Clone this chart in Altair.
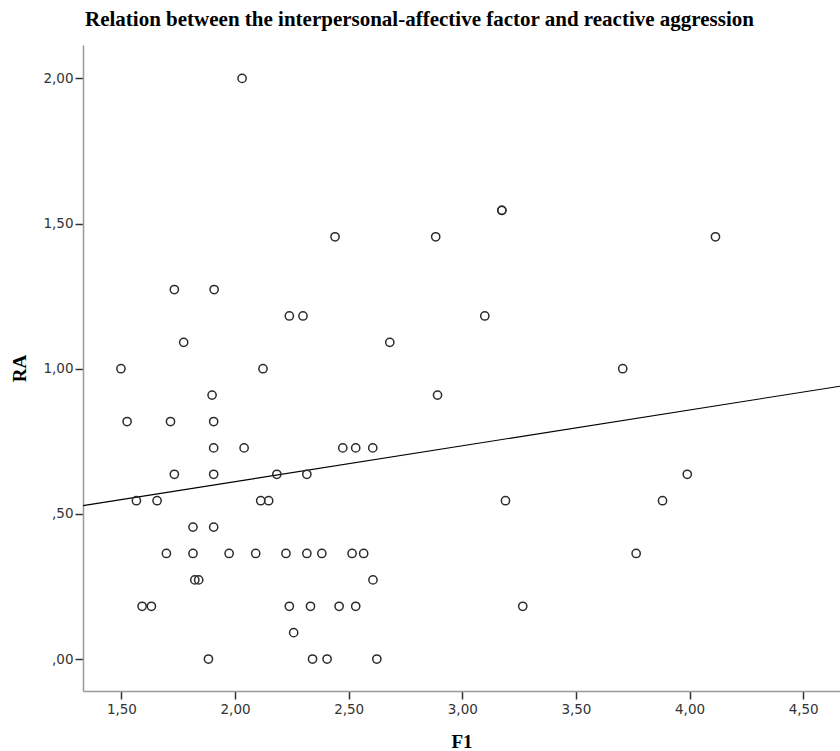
import altair as alt
import pandas as pd

title_text = "Relation between the interpersonal-affective factor and reactive aggression"

f1 = [
    2.031,
    3.174, 3.174,
    2.440, 2.883, 4.114,
    1.733, 1.908,
    2.239, 2.299, 3.099,
    1.774, 2.681,
    1.498, 2.123, 3.706,
    1.899, 2.891,
    1.525, 1.716, 1.906,
    1.906, 2.040, 2.474, 2.531, 2.606,
    1.733, 1.906, 2.184, 2.316, 3.990,
    1.566, 1.657, 2.113, 2.148, 3.190, 3.881,
    1.815, 1.906,
    1.698, 1.815, 1.974, 2.091, 2.224, 2.316, 2.382, 2.515, 2.566, 3.765,
    1.823, 1.840, 2.607,
    1.591, 1.632, 2.239, 2.332, 2.458, 2.531, 3.266,
    2.258,
    1.883, 2.341, 2.405, 2.624,
]
ra = [
    2.0000,
    1.5455, 1.5455,
    1.4545, 1.4545, 1.4545,
    1.2727, 1.2727,
    1.1818, 1.1818, 1.1818,
    1.0909, 1.0909,
    1.0000, 1.0000, 1.0000,
    0.9091, 0.9091,
    0.8182, 0.8182, 0.8182,
    0.7273, 0.7273, 0.7273, 0.7273, 0.7273,
    0.6364, 0.6364, 0.6364, 0.6364, 0.6364,
    0.5455, 0.5455, 0.5455, 0.5455, 0.5455, 0.5455,
    0.4545, 0.4545,
    0.3636, 0.3636, 0.3636, 0.3636, 0.3636, 0.3636, 0.3636, 0.3636, 0.3636, 0.3636,
    0.2727, 0.2727, 0.2727,
    0.1818, 0.1818, 0.1818, 0.1818, 0.1818, 0.1818, 0.1818,
    0.0909,
    0.0000, 0.0000, 0.0000, 0.0000,
]

x_ticks = [1.5, 2.0, 2.5, 3.0, 3.5, 4.0, 4.5]
y_ticks = [0.0, 0.5, 1.0, 1.5, 2.0]
x_domain = [1.331, 4.662]
y_domain = [-0.110, 2.115]

df = pd.DataFrame({"F1": f1, "RA": ra})

label_expr = ("datum.value < 1 ? replace(format(datum.value, '.2f'), '0.', ',') "
              ": replace(format(datum.value, '.2f'), '.', ',')")

common_axis = dict(
    labelExpr=label_expr,
    labelFont="DejaVu Sans",
    labelFontSize=13.5,
    labelColor="#333333",
    tickSize=8,
    tickColor="#333333",
    tickWidth=1.5,
    domainColor="#999999",
    domainWidth=1.5,
    grid=False,
    titleFont="Liberation Serif",
    titleFontWeight="bold",
    titleFontSize=19,
    titleColor="black",
    titleBaseline="alphabetic",
)

x_enc = alt.X(
    "F1:Q",
    scale=alt.Scale(domain=x_domain, nice=False, zero=False),
    axis=alt.Axis(values=x_ticks, title="F1", labelPadding=3, titleY=56, **common_axis),
)
y_enc = alt.Y(
    "RA:Q",
    scale=alt.Scale(domain=y_domain, nice=False, zero=False),
    axis=alt.Axis(values=y_ticks, title="RA", labelPadding=2, titleX=-58, titleY=323,
                  titleAngle=270, titleAlign="center", **common_axis),
)

points = alt.Chart(df).mark_point(
    shape="circle", filled=False, size=68, strokeWidth=1.5, color="#2b2b2b", opacity=1
).encode(x=x_enc, y=y_enc)

fit = alt.Chart(df).transform_regression(
    "F1", "RA", extent=x_domain
).mark_line(color="black", strokeWidth=1.1).encode(x=x_enc, y=y_enc)

chart = alt.layer(fit, points).properties(
    width=757,
    height=646,
    autosize="none",
    padding={"left": 83, "top": 45, "right": 0, "bottom": 60},
    background="white",
    title=alt.Title(
        title_text, anchor="start", dx=2, dy=22, offset=20, baseline="alphabetic",
        font="Liberation Serif", fontWeight="bold", fontSize=21, color="black",
        frame="group",
    ),
).configure_view(stroke=None)

chart.save("out.html", embed_options={"renderer": "svg", "actions": False})
